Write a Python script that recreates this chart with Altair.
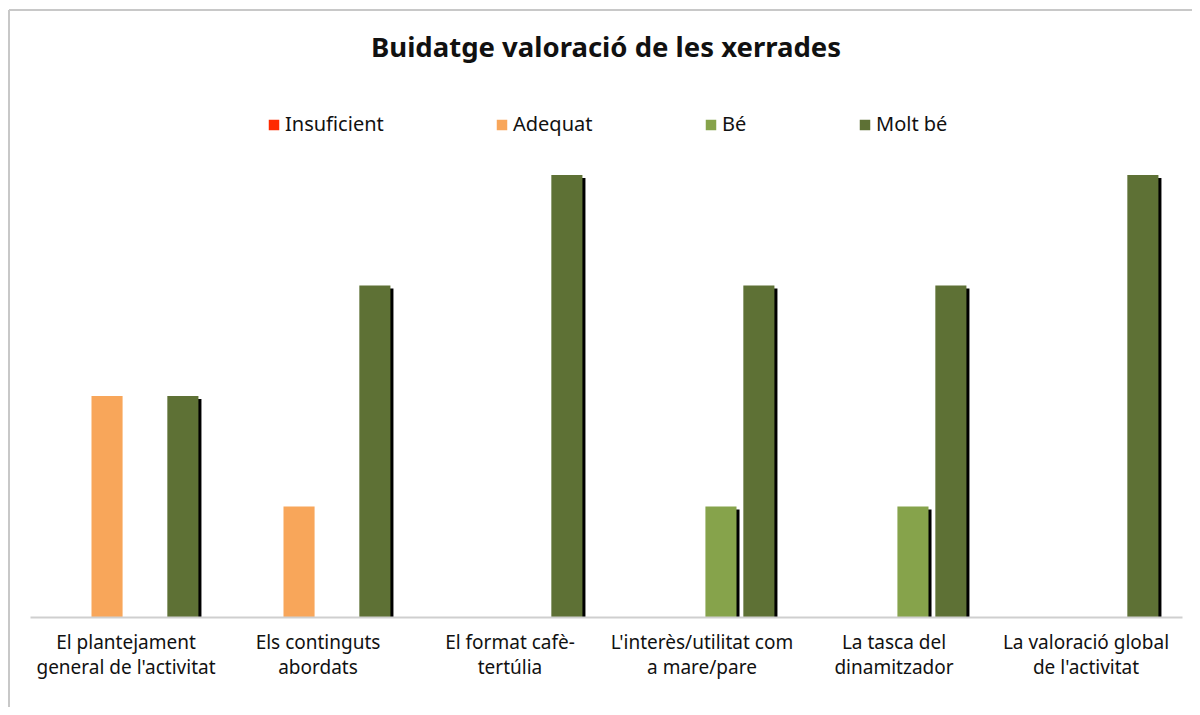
import altair as alt
import pandas as pd

categories = [
    "El plantejament\ngeneral de l'activitat",
    "Els continguts\nabordats",
    "El format cafè-\ntertúlia",
    "L'interès/utilitat com\na mare/pare",
    "La tasca del\ndinamitzador",
    "La valoració global\nde l'activitat",
]
series = ["Insuficient", "Adequat", "Bé", "Molt bé"]
insuficient = [0, 0, 0, 0, 0, 0]
adequat = [2, 1, 0, 0, 0, 0]
be = [0, 0, 0, 1, 1, 0]
molt_be = [2, 3, 4, 3, 3, 4]
colors = ["#FF2A00", "#F8A65A", "#86A34B", "#5E7135"]
shadow_series = ["Bé", "Molt bé"]

rows = []
for s, vals in zip(series, [insuficient, adequat, be, molt_be]):
    for c, v in zip(categories, vals):
        rows.append({"categoria": c, "serie": s, "valor": v})
df = pd.DataFrame(rows)

FONT = "Noto Sans"

x_enc = alt.X(
    "categoria:N",
    sort=categories,
    title=None,
    scale=alt.Scale(paddingInner=0.21, paddingOuter=0.105),
    axis=alt.Axis(
        labelAngle=0,
        labelExpr="split(datum.label, '\\n')",
        labelFont=FONT,
        labelFontSize=19,
        labelColor="#111111",
        labelLineHeight=25,
        labelPadding=16,
        labelBaseline="top",
        labelLimit=0,
        ticks=False,
        domainColor="#CFCFCF",
        domainWidth=2,
        zindex=1,
    ),
)
y_enc = alt.Y("valor:Q", scale=alt.Scale(domain=[0, 4]), axis=None)

base = alt.Chart(df)

shadow = base.transform_filter(
    alt.FieldOneOfPredicate(field="serie", oneOf=shadow_series)
).mark_bar(color="black", clip=True).encode(
    x=x_enc,
    xOffset=alt.XOffset(
        "serie:N",
        sort=series,
        scale=alt.Scale(domain=series, paddingInner=0.18, paddingOuter=0.09,
                        range=[3, 154.7]),
    ),
    y=alt.Y("valor:Q", scale=alt.Scale(domain=[0, 4], range=[445, 3]), axis=None),
)

bars = base.mark_bar().encode(
    x=x_enc,
    xOffset=alt.XOffset(
        "serie:N", sort=series,
        scale=alt.Scale(domain=series, paddingInner=0.18, paddingOuter=0.09),
    ),
    y=y_enc,
    color=alt.Color(
        "serie:N",
        sort=series,
        scale=alt.Scale(domain=series, range=colors),
        legend=alt.Legend(
            title=None,
            orient="none",
            direction="horizontal",
            legendX=234,
            legendY=-60,
            symbolType="square",
            symbolSize=110,
            symbolStrokeWidth=0,
            symbolOpacity=1,
            labelFont=FONT,
            labelFontSize=20,
            labelColor="#111111",
            columns=4,
            columnPadding=108,
            labelOffset=1,
        ),
    ),
)

frame_top = alt.Chart(df).mark_rule(color="#C8C8C8", strokeWidth=2).encode(
    x=alt.value(-21), x2=alt.value(1200), y=alt.value(-165)
)
frame_left = alt.Chart(df).mark_rule(color="#C8C8C8", strokeWidth=2).encode(
    x=alt.value(-21), y=alt.value(-165), y2=alt.value(540)
)

chart = (
    alt.layer(frame_top, frame_left, shadow, bars)
    .resolve_scale(xOffset="independent", y="independent")
    .properties(
        width=1152,
        height=442,
        background="white",
        autosize=alt.AutoSizeParams(type="none"),
        padding={"left": 22, "top": 167, "right": 10, "bottom": 90},
        title=alt.TitleParams(
            "Buidatge valoració de les xerrades",
            font=FONT,
            fontSize=27.5,
            fontWeight="bold",
            color="#111111",
            anchor="middle",
            offset=-53,
        ),
    )
    .configure_view(stroke=None)
)

chart.save("out.html", embed_options={"renderer": "svg", "actions": False})
